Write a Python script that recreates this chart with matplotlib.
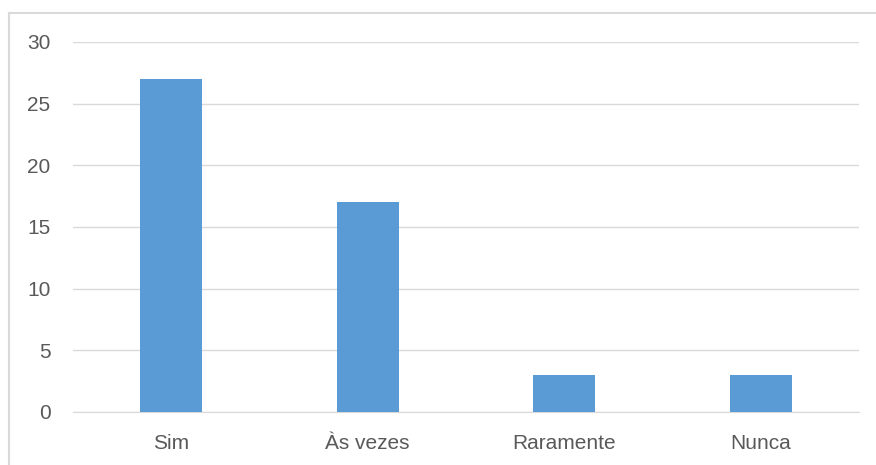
import matplotlib.pyplot as plt
from matplotlib.lines import Line2D

plt.rcParams['font.family'] = ['Liberation Sans', 'DejaVu Sans']

categorias = ['Sim', 'Às vezes', 'Raramente', 'Nunca']
valores = [27, 17, 3, 3]
yticks = [0, 5, 10, 15, 20, 25, 30]

fig = plt.figure(figsize=(8.76, 4.65), dpi=100)
ax = fig.add_axes([0.083, 0.114, 0.898, 0.7957])

x = range(len(categorias))
ax.bar(x, valores, width=0.315, color='#5B9BD5', zorder=3)

ax.set_xlim(-0.5, len(categorias) - 0.5)
ax.set_ylim(0, 30)
ax.set_yticks(yticks)
ax.set_xticks(list(x))
ax.set_xticklabels(categorias)
ax.grid(axis='y', color='#D9D9D9', linewidth=1, zorder=0)
for s in ['top', 'right', 'left']:
    ax.spines[s].set_visible(False)
ax.spines['bottom'].set_color('#D9D9D9')
ax.tick_params(axis='both', length=0, labelsize=15, colors='#595959')
ax.tick_params(axis='x', pad=16)
ax.tick_params(axis='y', pad=16)

# moldura (só aparecem a esquerda e o topo)
fig.lines.append(Line2D([8.5 / 876, 8.5 / 876], [0, 1 - 13.5 / 465], transform=fig.transFigure,
                        color='#D9D9D9', linewidth=1.5))
fig.lines.append(Line2D([8.5 / 876, 1], [1 - 13.5 / 465, 1 - 13.5 / 465], transform=fig.transFigure,
                        color='#D9D9D9', linewidth=1.5))

fig.savefig('out.png', dpi=100)
